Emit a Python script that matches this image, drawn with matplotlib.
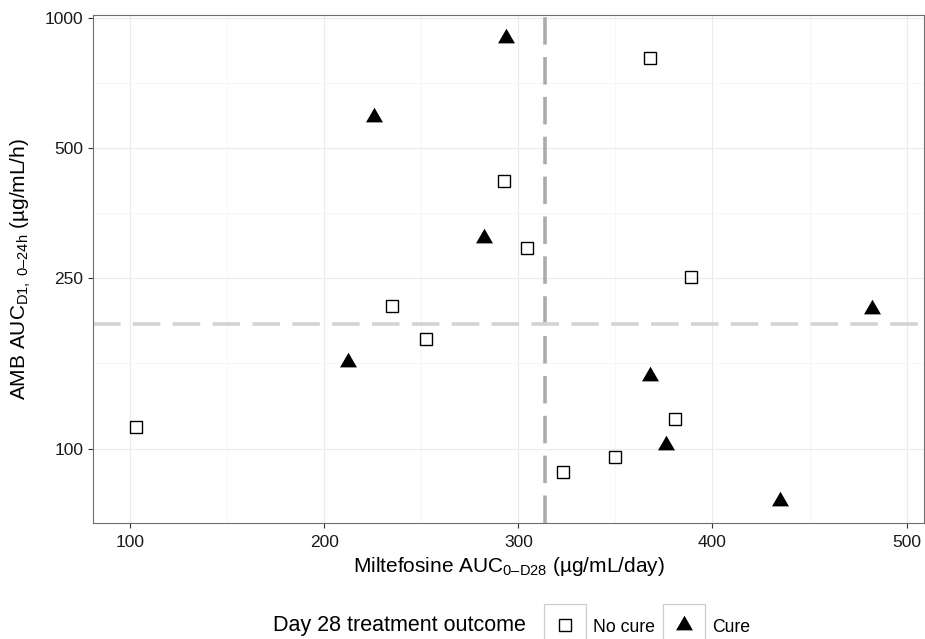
import numpy as np
import matplotlib
matplotlib.use("Agg")
import matplotlib.pyplot as plt
from matplotlib.path import Path
from matplotlib.lines import Line2D
from matplotlib.patches import Rectangle
from matplotlib.ticker import FixedLocator, NullFormatter

# Exposure per patient: miltefosine AUC (µg/mL/day) vs AmB AUC (µg/mL/h)
no_cure_x = [103, 235, 252.5, 292.5, 304.5, 323, 350, 368, 380.5, 389]
no_cure_y = [112.5, 215, 180, 420, 292.5, 88.5, 96, 810, 117.5, 251]
cure_x = [212.5, 225.5, 282.5, 293.5, 368, 376, 435, 482]
cure_y = [159.5, 590, 309, 900, 148, 102.5, 76, 211]

outcome_labels = ["No cure", "Cure"]
legend_title = "Day 28 treatment outcome"

x_ticks = [100, 200, 300, 400, 500]
x_tick_labels = ["100", "200", "300", "400", "500"]
y_ticks = [100, 250, 500, 1000]
y_tick_labels = ["100", "250", "500", "1000"]

x_title = "Miltefosine AUC$_{0\u2013D28}$ (µg/mL/day)"
y_title = "AMB AUC$_{D1,\\ 0\u201324h}$ (µg/mL/h)"

plt.rcParams["font.family"] = ["Liberation Sans", "DejaVu Sans"]
plt.rcParams["mathtext.fontset"] = "custom"
plt.rcParams["mathtext.rm"] = "Liberation Sans"
plt.rcParams["mathtext.it"] = "Liberation Sans:italic"
plt.rcParams["mathtext.bf"] = "Liberation Sans:bold"
plt.rcParams["mathtext.default"] = "regular"
plt.rcParams["lines.scale_dashes"] = False

W, H = 925, 639


def fx(px):
    return px / W


def fy(py):
    return 1 - py / H


fig = plt.figure(figsize=(W / 100, H / 100), dpi=100)
fig.patch.set_facecolor("white")

left, right, top, bottom = 92.7, 924.3, 15.0, 523.3
ax = fig.add_axes([fx(left), fy(bottom), fx(right) - fx(left), fy(top) - fy(bottom)])

ax.set_yscale("log")
ax.set_xlim(80.8, 509.1)
ax.set_ylim(67.3, 1018)

# major breaks and the minor gridlines halfway between them
x_minor = [(a + b) / 2 for a, b in zip(x_ticks[:-1], x_ticks[1:])]
y_minor = [np.sqrt(a * b) for a, b in zip(y_ticks[:-1], y_ticks[1:])]

ax.set_xticks(x_ticks, x_tick_labels)
ax.set_yticks(y_ticks, y_tick_labels)
ax.xaxis.set_minor_locator(FixedLocator(x_minor))
ax.yaxis.set_minor_locator(FixedLocator(y_minor))
ax.xaxis.set_minor_formatter(NullFormatter())
ax.yaxis.set_minor_formatter(NullFormatter())

ax.tick_params(which="minor", length=0)
ax.tick_params(which="major", length=3.6, width=0.8, color="#333333",
               labelsize=12.5, labelcolor="#1a1a1a", direction="out")
ax.tick_params(axis="x", pad=4.5)
ax.tick_params(axis="y", pad=3)

ax.grid(which="major", color="#EBEBEB", lw=0.8)
ax.grid(which="minor", color="#F5F5F5", lw=0.6)
ax.set_axisbelow(True)
for s in ax.spines.values():
    s.set_color("#6E6E6E")
    s.set_linewidth(0.8)

# median reference lines
x_med = np.median(no_cure_x + cure_x)
y_med = np.median(no_cure_y + cure_y)
ax.axvline(x_med, color="#ABABAB", lw=2.6, linestyle=(0, (19.8, 8.9)), zorder=2)
ax.axhline(y_med, color="#D3D3D3", lw=2.6, linestyle=(0, (19.8, 8.9)), zorder=2)

tri = Path([(0, 1), (-0.866, -0.5), (0.866, -0.5), (0, 1)],
           [Path.MOVETO, Path.LINETO, Path.LINETO, Path.CLOSEPOLY])
square_style = dict(ls="none", marker="s", ms=9, mfc="none", mec="black", mew=1.0)
tri_style = dict(ls="none", marker=tri, ms=14.1, mfc="black", mec="black", mew=0)

ax.plot(no_cure_x, no_cure_y, zorder=3, **square_style)
ax.plot(cure_x, cure_y, zorder=3, **tri_style)

# axis titles
fig.text(fx((left + right) / 2), fy(572), x_title, ha="center", va="baseline",
         fontsize=15, color="black")
fig.text(fx(26), fy((top + bottom) / 2), y_title, rotation=90, rotation_mode="anchor",
         ha="center", va="baseline", fontsize=15, color="black")

# legend along the bottom edge
fig.text(fx(525.7), fy(631.5), legend_title, ha="right", va="baseline",
         fontsize=15.5, color="black")
key_lefts = [544.3, 663.3]
key_size = 42
key_top = 603.7
for kl, label, style in zip(key_lefts, outcome_labels, [square_style, tri_style]):
    fig.add_artist(Rectangle((fx(kl), fy(key_top + key_size)), key_size / W, key_size / H,
                             transform=fig.transFigure, fill=False, ec="#CCCCCC",
                             lw=0.9, clip_on=False))
    fig.add_artist(Line2D([fx(kl + key_size / 2)], [fy(625)],
                          transform=fig.transFigure, **style))
    fig.text(fx(kl + key_size + 6.6), fy(632), label, ha="left", va="baseline",
             fontsize=12.7, color="black")

fig.savefig("out.png", dpi=100)
